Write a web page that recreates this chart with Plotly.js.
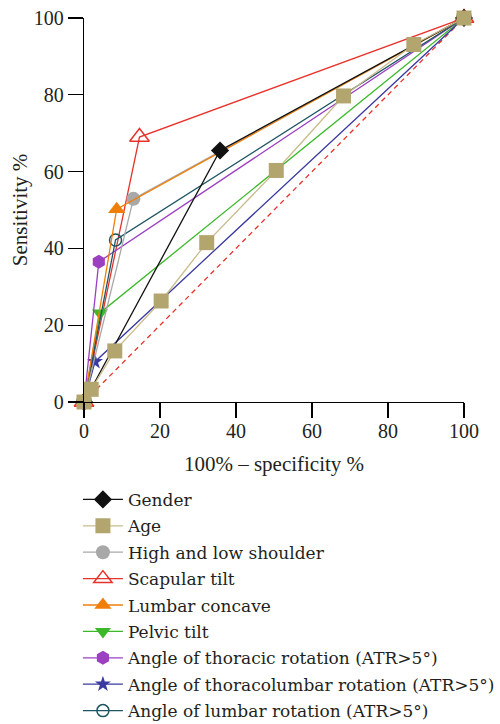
<!DOCTYPE html>
<html>
<head>
<meta charset="utf-8">
<script src="https://cdn.plot.ly/plotly-3.0.1.min.js"></script>
<style>html,body{margin:0;padding:0;background:#fff;}#chart{width:500px;height:724px;}</style>
</head>
<body>
<div id="chart"></div>
<script>
// Data (x = 100% - specificity %, y = sensitivity %)
const genderX = [0, 35.8, 100];
const genderY = [0, 65.5, 100];
const ageX = [0, 1.9, 8.1, 20.3, 32.3, 50.6, 68.3, 86.8, 100];
const ageY = [0, 3.3, 13.3, 26.3, 41.5, 60.3, 79.7, 93.1, 100];
const shoulderX = [0, 13.0, 100];
const shoulderY = [0, 52.9, 100];
const scapularX = [0, 14.6, 100];
const scapularY = [0, 69.0, 100];
const lumbarConcaveX = [0, 8.6, 100];
const lumbarConcaveY = [0, 50.2, 100];
const pelvicX = [0, 4.2, 100];
const pelvicY = [0, 23.2, 100];
const thoracicX = [0, 3.9, 100];
const thoracicY = [0, 36.5, 100];
const thoracolumbarX = [0, 2.9, 100];
const thoracolumbarY = [0, 10.5, 100];
const lumbarRotX = [0, 8.3, 100];
const lumbarRotY = [0, 42.2, 100];
const refX = [0, 100];
const refY = [0, 100];
const names = ["Gender", "Age", "High and low shoulder", "Scapular tilt", "Lumbar concave",
  "Pelvic tilt", "Angle of thoracic rotation (ATR>5°)", "Angle of thoracolumbar rotation (ATR>5°)",
  "Angle of lumbar rotation (ATR>5°)"];
const tickVals = [0, 20, 40, 60, 80, 100];

function tr(x, y, name, rank, lineColor, symbol, size, mColor, lineW, openMarker) {
  const marker = {symbol: symbol, size: size, color: mColor};
  if (openMarker) marker.line = {color: mColor, width: 1.5};
  else marker.line = {width: 0};
  return {x: x, y: y, name: name, legendrank: rank, legendgroup: 'g' + rank, type: 'scatter',
    mode: 'lines+markers', line: {color: lineColor, width: lineW || 1.3}, marker: marker, cliponaxis: false};
}

const data = [
  {x: refX, y: refY, type: 'scatter', mode: 'lines', showlegend: false, hoverinfo: 'skip',
   line: {color: '#e8322a', width: 1.3, dash: '5px,4px'}, cliponaxis: false},
  tr(scapularX, scapularY, names[3], 4, '#e8322a', 'triangle-up-open', 17, '#e8322a', 1.3, true),
  tr(pelvicX, pelvicY, names[5], 6, '#3cb82a', 'triangle-down', 14, '#3cb82a'),
  tr(thoracolumbarX, thoracolumbarY, names[7], 8, '#3a3aa0', 'star', 12, '#3a3aa0'),
  tr(thoracicX, thoracicY, names[6], 7, '#9b40c0', 'hexagon', 14, '#9b40c0'),
  tr(lumbarRotX, lumbarRotY, names[8], 9, '#1f5563', 'circle-open', 12, '#1f5563', 1.3, true),
  tr(shoulderX, shoulderY, names[2], 3, '#a8a8a8', 'circle', 14, '#a8a8a8'),
  tr(lumbarConcaveX, lumbarConcaveY, names[4], 5, '#f07f0a', 'triangle-up', 15, '#f07f0a'),
  tr(genderX, genderY, names[0], 1, '#111111', 'diamond', 14, '#111111'),
  tr(ageX, ageY, names[1], 2, '#c9bb8c', 'square', 15, '#b3a56e')
];

const serif = '"Liberation Serif", "Times New Roman", serif';
const legendSerif = '"DejaVu Serif", serif';

const layout = {
  width: 500, height: 724,
  margin: {l: 84, r: 36, t: 18, b: 322, autoexpand: false},
  paper_bgcolor: '#fff', plot_bgcolor: '#fff',
  font: {family: serif, size: 20, color: '#231f20'},
  showlegend: true,
  legend: {x: -0.016, xanchor: 'left', y: -0.208, yanchor: 'top', traceorder: 'grouped',
    itemwidth: 40, font: {family: legendSerif, size: 17, color: '#231f20'},
    bgcolor: 'rgba(0,0,0,0)', tracegroupgap: 1.3},
  xaxis: {range: [0, 100], tickvals: tickVals, ticktext: tickVals.map(String), showgrid: false, zeroline: false,
    showline: true, linecolor: '#000', linewidth: 1.3, ticks: 'outside', ticklen: 15, tickwidth: 1.3,
    tickcolor: '#000', tickfont: {family: serif, size: 20, color: '#231f20'}, automargin: false,
    ticklabelstandoff: -4,
    title: {text: '100% – specificity %', font: {family: serif, size: 21, color: '#231f20'}, standoff: 15}},
  yaxis: {range: [0, 100], tickvals: tickVals, ticktext: tickVals.map(String), showgrid: false, zeroline: false,
    showline: true, linecolor: '#000', linewidth: 1.3, ticks: 'outside', ticklen: 15, tickwidth: 1.3,
    tickcolor: '#000', tickfont: {family: serif, size: 20, color: '#231f20'}, automargin: false,
    title: {text: 'Sensitivity %', font: {family: serif, size: 21, color: '#231f20'}, standoff: 0}}
};

Plotly.newPlot('chart', data, layout, {staticPlot: true, displayModeBar: false});
</script>
</body>
</html>
